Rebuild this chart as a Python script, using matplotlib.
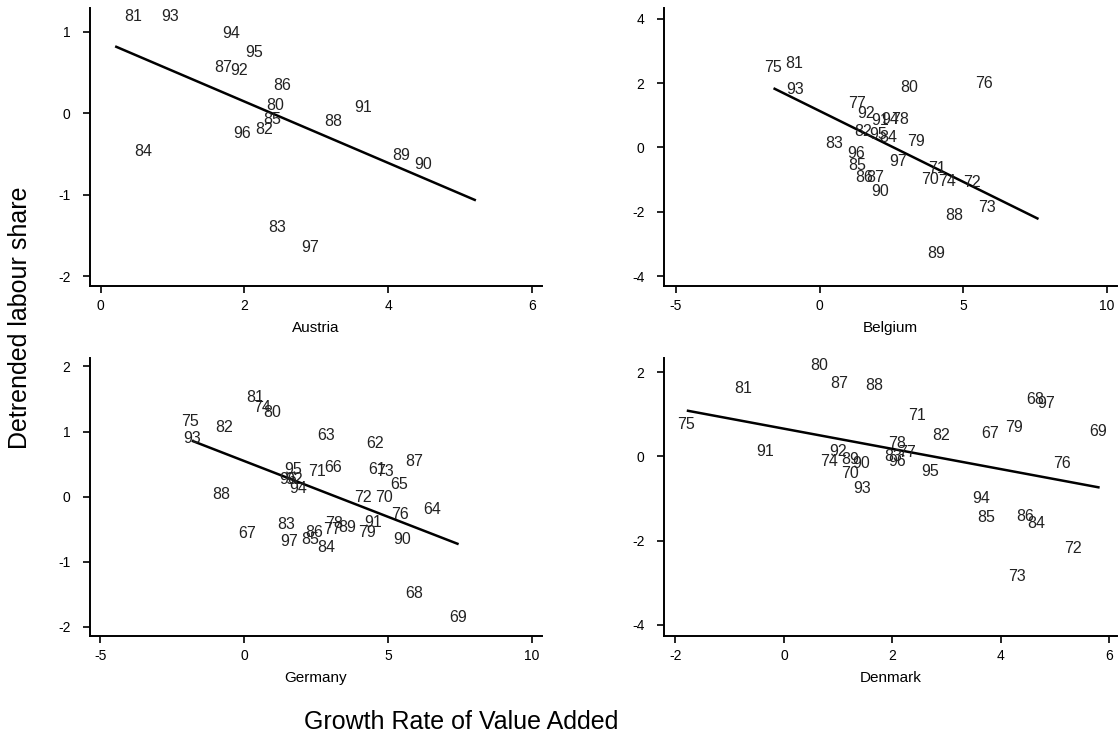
import matplotlib
matplotlib.use("Agg")
import matplotlib.pyplot as plt

plt.rcParams['font.family'] = ['Liberation Sans', 'DejaVu Sans']
plt.rcParams['axes.unicode_minus'] = False

# Austria
austria_years = [str(y) for y in range(80, 98)]
austria_growth = [2.43, 0.455, 2.27, 2.46, 0.59, 2.38, 2.52, 1.71, 3.23, 4.18,
                  4.49, 3.65, 1.93, 0.965, 1.82, 2.13, 1.97, 2.91]
austria_share = [0.09, 1.18, -0.20, -1.40, -0.47, -0.08, 0.34, 0.56, -0.10, -0.52,
                 -0.63, 0.07, 0.52, 1.18, 0.98, 0.74, -0.25, -1.65]
austria_fit_x = [0.2, 5.22]
austria_fit_y = [0.82, -1.07]

# Belgium
belgium_years = [str(y) for y in range(70, 98)]
belgium_growth = [3.85, 4.08, 5.30, 5.82, 4.43, -1.62, 5.71, 1.30, 2.81, 3.36,
                  3.13, -0.87, 1.53, 0.52, 2.40, 1.30, 1.57, 1.94, 4.69, 4.06,
                  2.11, 2.11, 1.61, -0.85, 2.46, 2.05, 1.28, 2.73]
belgium_share = [-1.00, -0.64, -1.09, -1.85, -1.06, 2.48, 2.00, 1.38, 0.88, 0.19,
                 1.86, 2.62, 0.50, 0.11, 0.32, -0.56, -0.93, -0.93, -2.12, -3.30,
                 -1.37, 0.84, 1.07, 1.79, 0.88, 0.39, -0.20, -0.43]
belgium_fit_x = [-1.60, 7.62]
belgium_fit_y = [1.84, -2.22]

# Germany
germany_years = [str(y) for y in range(61, 98)]
germany_growth = [4.62, 4.56, 2.85, 6.53, 5.39, 3.11, 0.12, 5.92, 7.46, 4.85,
                  2.55, 4.13, 4.91, 0.61, -1.88, 5.43, 3.07, 3.13, 4.29, 0.99,
                  0.38, -0.70, 1.48, 2.85, 2.30, 2.44, 5.92, -0.80, 3.57, 5.49,
                  4.48, 1.72, -1.82, 1.89, 1.72, 1.52, 1.57]
germany_share = [0.42, 0.82, 0.94, -0.19, 0.18, 0.45, -0.56, -1.49, -1.85, -0.01,
                 0.38, -0.01, 0.38, 1.37, 1.15, -0.28, -0.50, -0.41, -0.55, 1.30,
                 1.52, 1.06, -0.43, -0.78, -0.66, -0.55, 0.54, 0.04, -0.48, -0.66,
                 -0.40, 0.27, 0.90, 0.13, 0.42, 0.26, -0.69]
germany_fit_x = [-1.82, 7.46]
germany_fit_y = [0.86, -0.73]

# Denmark
denmark_years = [str(y) for y in range(67, 98)]
denmark_growth = [3.81, 4.64, 5.80, 1.22, 2.45, 5.33, 4.30, 0.84, -1.81, 5.12,
                  2.27, 2.08, 4.25, 0.65, -0.75, 2.90, 2.02, 4.66, 3.73, 4.45,
                  1.02, 1.66, 1.23, 1.42, -0.34, 1.00, 1.45, 3.64, 2.70, 2.09, 4.84]
denmark_share = [0.55, 1.36, 0.59, -0.41, 0.97, -2.20, -2.86, -0.12, 0.77, -0.17,
                 0.09, 0.30, 0.69, 2.15, 1.62, 0.50, -0.01, -1.60, -1.45, -1.42,
                 1.74, 1.68, -0.08, -0.17, 0.12, 0.12, -0.77, -1.01, -0.36, -0.13, 1.26]
denmark_fit_x = [-1.79, 5.82]
denmark_fit_y = [1.09, -0.74]

W, H = 1118, 744


def make_axes(fig, left, top, right, bottom):
    return fig.add_axes([left / W, 1 - bottom / H, (right - left) / W, (bottom - top) / H])


def draw_panel(ax, name, years, growth, share, fit_x, fit_y, xlim, ylim, xticks, yticks):
    for yr, gx, sy in zip(years, growth, share):
        ax.text(gx, sy, yr, ha='center', va='center', fontsize=11.5, color='#222222')
    ax.plot(fit_x, fit_y, color='black', lw=1.8, solid_capstyle='butt')
    ax.set_xlim(xlim)
    ax.set_ylim(ylim)
    ax.set_xticks(xticks)
    ax.set_yticks(yticks)
    ax.spines['top'].set_visible(False)
    ax.spines['right'].set_visible(False)
    ax.spines['left'].set_linewidth(1.4)
    ax.spines['bottom'].set_linewidth(1.4)
    ax.tick_params(direction='out', length=5, width=1.2, labelsize=10)
    ax.tick_params(axis='x', pad=4)
    ax.tick_params(axis='y', pad=9)
    ax.set_xlabel(name, fontsize=11, labelpad=6)


fig = plt.figure(figsize=(W / 100, H / 100), dpi=100)

ax1 = make_axes(fig, 90, 8, 542, 286)
draw_panel(ax1, 'Austria', austria_years, austria_growth, austria_share,
           austria_fit_x, austria_fit_y, (-0.15, 6.14), (-2.12, 1.29),
           [0, 2, 4, 6], [-2, -1, 0, 1])

ax2 = make_axes(fig, 664, 8, 1117, 286)
draw_panel(ax2, 'Belgium', belgium_years, belgium_growth, belgium_share,
           belgium_fit_x, belgium_fit_y, (-5.41, 10.35), (-4.30, 4.33),
           [-5, 0, 5, 10], [-4, -2, 0, 2, 4])

ax3 = make_axes(fig, 90, 358, 542, 636)
draw_panel(ax3, 'Germany', germany_years, germany_growth, germany_share,
           germany_fit_x, germany_fit_y, (-5.36, 10.36), (-2.14, 2.13),
           [-5, 0, 5, 10], [-2, -1, 0, 1, 2])

ax4 = make_axes(fig, 664, 358, 1117, 636)
draw_panel(ax4, 'Denmark', denmark_years, denmark_growth, denmark_share,
           denmark_fit_x, denmark_fit_y, (-2.21, 6.14), (-4.27, 2.34),
           [-2, 0, 2, 4, 6], [-4, -2, 0, 2])

fig.text(461 / W, 1 - 722 / H, 'Growth Rate of Value Added', ha='center', va='center', fontsize=18)
fig.text(20 / W, 1 - 318 / H, 'Detrended labour share', ha='center', va='center',
         rotation=90, fontsize=18)

fig.savefig('out.png', dpi=100)
